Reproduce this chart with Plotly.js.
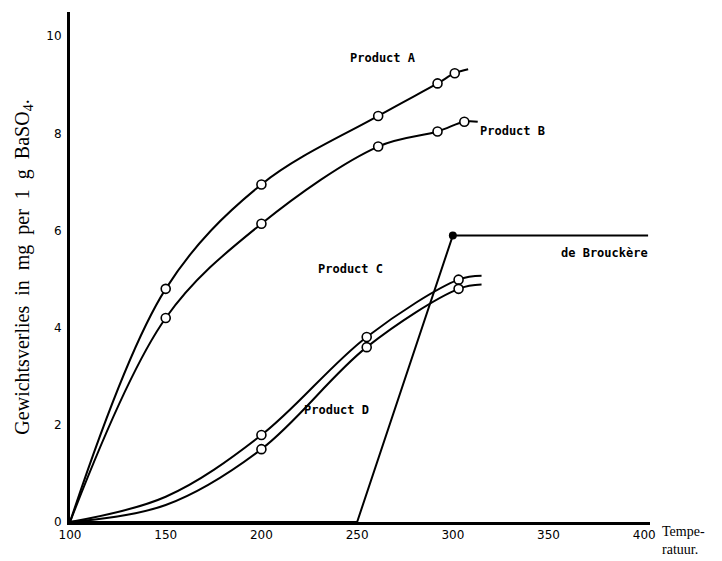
<!DOCTYPE html>
<html>
<head>
<meta charset="utf-8">
<script src="https://cdn.plot.ly/plotly-3.0.1.min.js"></script>
<style>html,body{margin:0;padding:0;background:#fff;}#chart{width:722px;height:561px;}</style>
</head>
<body>
<div id="chart"></div>
<script>
const aCurveX = [100, 150, 200, 261, 292, 301, 308];
const aCurveY = [0, 4.80, 6.95, 8.36, 9.03, 9.24, 9.32];
const aPtsX = [150, 200, 261, 292, 301];
const aPtsY = [4.80, 6.95, 8.36, 9.03, 9.24];

const bCurveX = [100, 150, 200, 261, 292, 306, 313];
const bCurveY = [0, 4.20, 6.14, 7.73, 8.04, 8.24, 8.24];
const bPtsX = [150, 200, 261, 292, 306];
const bPtsY = [4.20, 6.14, 7.73, 8.04, 8.24];

const cCurveX = [100, 150, 200, 255, 303, 315];
const cCurveY = [0, 0.52, 1.79, 3.81, 4.99, 5.07];
const cPtsX = [200, 255, 303];
const cPtsY = [1.79, 3.81, 4.99];

const dCurveX = [100, 150, 200, 255, 303, 315];
const dCurveY = [0, 0.35, 1.50, 3.60, 4.80, 4.89];
const dPtsX = [200, 255, 303];
const dPtsY = [1.50, 3.60, 4.80];

const brX = [100, 250, 300, 402];
const brY = [0, 0, 5.90, 5.90];
const brPtsX = [300];
const brPtsY = [5.90];

const xTicks = [100, 150, 200, 250, 300, 350, 400];
const yTicks = [0, 2, 4, 6, 8, 10];

const labelFont = {family: 'DejaVu Sans Mono', size: 12, color: '#000', weight: 'bold'};

function curve(x, y) {
  return {x: x, y: y, mode: 'lines', type: 'scatter', line: {color: '#000', width: 2, shape: 'spline', smoothing: 1}, hoverinfo: 'skip', showlegend: false};
}
function pts(x, y) {
  return {x: x, y: y, mode: 'markers', type: 'scatter', marker: {symbol: 'circle', size: 9, color: '#fff', line: {color: '#000', width: 1.6}}, showlegend: false};
}

const data = [
  curve(aCurveX, aCurveY), pts(aPtsX, aPtsY),
  curve(bCurveX, bCurveY), pts(bPtsX, bPtsY),
  curve(cCurveX, cCurveY), pts(cPtsX, cPtsY),
  curve(dCurveX, dCurveY), pts(dPtsX, dPtsY),
  {x: brX, y: brY, mode: 'lines', type: 'scatter', line: {color: '#000', width: 2}, showlegend: false},
  {x: brPtsX, y: brPtsY, mode: 'markers', type: 'scatter', marker: {size: 8, color: '#000'}, showlegend: false}
];

const layout = {
  width: 722, height: 561,
  margin: {l: 70, r: 72, t: 12, b: 39},
  paper_bgcolor: '#fff', plot_bgcolor: '#fff',
  showlegend: false,
  xaxis: {
    range: [100, 403], tickvals: xTicks, ticktext: xTicks.map(String),
    showgrid: false, zeroline: false, showline: true, linecolor: '#000', linewidth: 3,
    ticks: '', tickfont: {family: 'DejaVu Sans', size: 12, color: '#000'}
  },
  yaxis: {
    range: [0, 10.5], tickvals: yTicks, ticktext: yTicks.map(String),
    showgrid: false, zeroline: false, showline: true, linecolor: '#000', linewidth: 3,
    ticks: '', ticklabelstandoff: 3, tickfont: {family: 'DejaVu Sans', size: 12, color: '#000'},
    title: {text: 'Gewichtsverlies  in  mg  per  1  g  BaSO<sub>4</sub>.', font: {family: 'Liberation Serif', size: 20, color: '#000'}, standoff: 12}
  },
  annotations: [
    {x: 263.6, y: 9.55, text: 'Product A', showarrow: false, font: labelFont},
    {x: 331, y: 8.04, text: 'Product B', showarrow: false, font: labelFont},
    {x: 246.4, y: 5.2, text: 'Product C', showarrow: false, font: labelFont},
    {x: 239, y: 2.31, text: 'Product D', showarrow: false, font: labelFont},
    {x: 379, y: 5.53, text: 'de Brouckère', showarrow: false, font: labelFont},
    {xref: 'paper', yref: 'paper', x: 1.017, y: 0.0, xanchor: 'left', yanchor: 'top', align: 'left', showarrow: false,
     text: 'Tempe-<br>ratuur.', font: {family: 'Liberation Serif', size: 14, color: '#000'}}
  ]
};

Plotly.newPlot('chart', data, layout, {displayModeBar: false, staticPlot: true});
</script>
</body>
</html>
